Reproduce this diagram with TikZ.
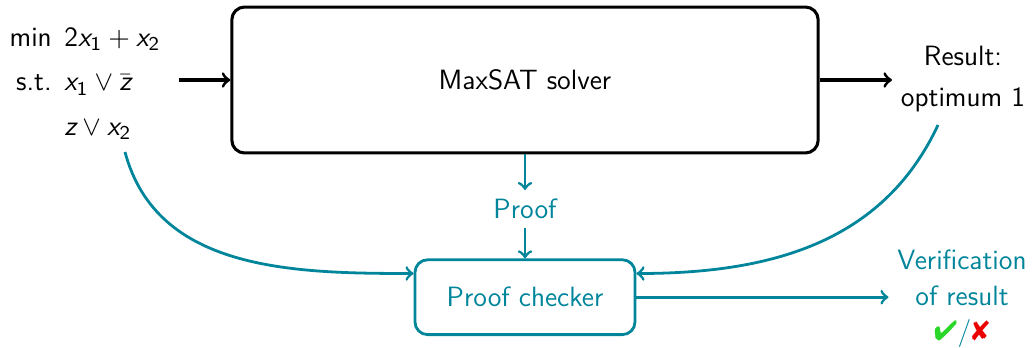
\documentclass[tikz,border=0pt]{standalone}
\usepackage{amsmath}
\usepackage{pifont}
\usetikzlibrary{positioning,arrows}
\renewcommand{\familydefault}{\sfdefault}
\definecolor{tealc}{RGB}{0,133,155}
\definecolor{okgreen}{RGB}{40,215,40}
\definecolor{badred}{RGB}{235,0,0}
\newcommand{\var}[1]{\textit{#1}}
\tikzset{
  solverbox/.style  = {draw, rectangle, rounded corners=5pt, line width=1.2pt,
                       minimum width=231pt, minimum height=57.5pt},
  checkerbox/.style = {draw=tealc, text=tealc, rectangle, rounded corners=5pt,
                       line width=1.1pt, minimum width=86.7pt, minimum height=29.5pt},
  blk/.style        = {->, line width=1.2pt},
  flow/.style       = {->, draw=tealc, line width=1.1pt},
  label/.style      = {align=center},
}

\begin{document}
\begin{tikzpicture}[x=0.394pt, y=0.394pt, font=\fontsize{11pt}{13.5pt}\selectfont]
    \useasboundingbox (0,0) rectangle (1032,348);
    % solver and its input / output
    \node[solverbox] (solver) at (525,268) {MaxSAT solver};
    \node (inputs) at (85,266) {\renewcommand{\arraystretch}{1.3}%
      \begin{tabular}{@{}r@{\hspace{5pt}}l@{}}
        min  & $\text{2}\var{x}_{\text{1}}+\var{x}_{\text{2}}$\\
        s.t. & $\var{x}_{\text{1}}\vee\bar{\var{z}}$\\
             & $\var{z}\vee\var{x}_{\text{2}}$
      \end{tabular}};
    \node[label] (result) at (963,269) {Result:\\[3pt]optimum 1};
    \draw[blk, shorten <=4pt] (inputs.east |- solver.west) -- (solver.west);
    \draw[blk] (solver.east) -- (solver.east -| result.west);
    % proof checking
    \node[text=tealc] (proof) [below=14pt of solver] {Proof};
    \node[checkerbox] (checker) [below=12pt of proof] {Proof checker};
    \node[label, text=tealc] (verify) at (962,49)
      {Verification\\[0.5pt]of result\\[0.5pt]{\color{okgreen}\ding{52}}/{\color{badred}\ding{56}}};
    \coordinate (inp) at (125,196);
    \coordinate (res) at (938,223);
    \draw[flow] (solver.south) -- (proof.north);
    \draw[flow] (proof.south) -- (checker.north);
    \draw[flow] (inp) to[out=-75, in=180] (checker.168);
    \draw[flow] (res) to[out=-115, in=0] (checker.12);
    \draw[flow] (checker.east) -- (checker.east -| verify.west);
\end{tikzpicture}
\end{document}
